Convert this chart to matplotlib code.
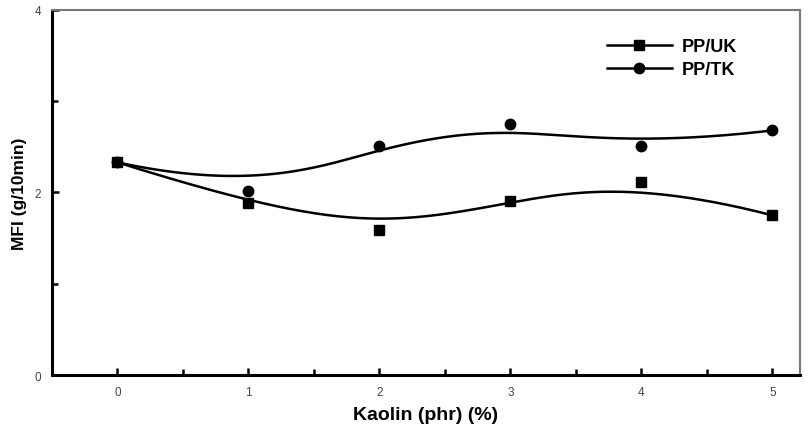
import numpy as np
import matplotlib
matplotlib.use('Agg')
import matplotlib.pyplot as plt
from matplotlib.lines import Line2D

plt.rcParams['font.family'] = ['Liberation Sans', 'DejaVu Sans']

kaolin = [0, 1, 2, 3, 4, 5]
mfi_uk = [2.33, 1.88, 1.59, 1.91, 2.12, 1.75]
mfi_tk = [2.33, 2.02, 2.51, 2.75, 2.51, 2.68]


def bspline(px, py, n=300):
    # clamped cubic B-spline, data points used as control points (Origin style)
    px = np.asarray(px, float)
    py = np.asarray(py, float)
    m = len(px)
    k = 3
    inner = np.arange(1, m - k)
    t = np.concatenate([np.zeros(k + 1), inner, np.full(k + 1, m - k)])
    u = np.linspace(0, m - k, n)
    u[-1] -= 1e-9

    def basis(i, p, u):
        if p == 0:
            return ((t[i] <= u) & (u < t[i + 1])).astype(float)
        a = np.zeros_like(u)
        b = np.zeros_like(u)
        if t[i + p] != t[i]:
            a = (u - t[i]) / (t[i + p] - t[i]) * basis(i, p - 1, u)
        if t[i + p + 1] != t[i + 1]:
            b = (t[i + p + 1] - u) / (t[i + p + 1] - t[i + 1]) * basis(i + 1, p - 1, u)
        return a + b

    B = np.array([basis(i, k, u) for i in range(m)])
    return px @ B, py @ B


fig = plt.figure(figsize=(8.12, 4.39), dpi=100)
ax = fig.add_axes([0.064, 0.1435, 0.921, 0.8315])

for yv, mk, ms in [(mfi_uk, 's', 7), (mfi_tk, 'o', 7.5)]:
    cx, cy = bspline(kaolin, yv)
    ax.plot(cx, cy, color='black', lw=1.8)
    ax.plot(kaolin, yv, mk, color='black', ms=ms, ls='none')

ax.set_xlim(-0.5, 5.21)
ax.set_ylim(0, 4)
ax.set_xticks(kaolin)
ax.set_xticks(np.arange(-0.5, 5.5, 0.5), minor=True)
ax.set_yticks([0, 2, 4])
ax.set_yticks([1, 3], minor=True)
ax.tick_params(which='both', direction='in', width=1.8, colors='black',
               labelcolor='#444444', labelsize=8.5)
ax.tick_params(which='major', length=5)
ax.tick_params(which='minor', length=4)
ax.tick_params(axis='x', pad=8)
ax.tick_params(axis='y', pad=8)

for s in ['left', 'bottom']:
    ax.spines[s].set_linewidth(2.2)
for s in ['top', 'right']:
    ax.spines[s].set_linewidth(1.5)
    ax.spines[s].set_color('#777777')

ax.set_xlabel('Kaolin (phr) (%)', fontsize=14, fontweight='bold', labelpad=6)
ax.set_ylabel('MFI (g/10min)', fontsize=12.5, fontweight='bold', labelpad=5)

handles = [Line2D([], [], color='black', lw=1.8, marker='s', ms=7),
           Line2D([], [], color='black', lw=1.8, marker='o', ms=7.5)]
ax.legend(handles, ['PP/UK', 'PP/TK'], loc='upper left', frameon=False,
          bbox_to_anchor=(0.742, 0.922), borderaxespad=0, borderpad=0,
          handlelength=3.6, handletextpad=0.55,
          labelspacing=0.3, prop={'weight': 'bold', 'size': 13})

fig.savefig('out.png', dpi=100)
